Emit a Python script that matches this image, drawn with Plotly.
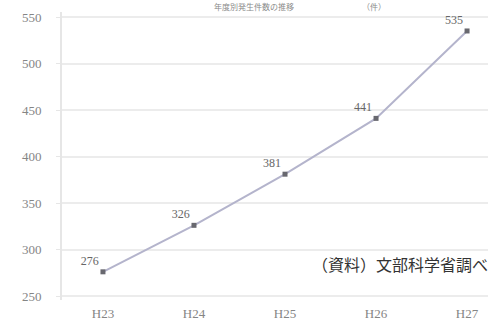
import plotly.graph_objects as go

# Fiscal years (Heisei era) and yearly counts
years = ["H23", "H24", "H25", "H26", "H27"]
counts = [276, 326, 381, 441, 535]
y_ticks = [250, 300, 350, 400, 450, 500, 550]

fig = go.Figure()

fig.add_trace(go.Scatter(
    x=years,
    y=counts,
    mode="lines+markers+text",
    line=dict(color="#b4b4cc", width=2),
    marker=dict(symbol="square", size=5, color="#68686f"),
    text=[str(v) for v in counts],
    textposition="top left",
    textfont=dict(family="Liberation Serif", size=12, color="#666666"),
    cliponaxis=False,
    hoverinfo="skip",
))

fig.update_layout(
    width=488,
    height=336,
    margin=dict(l=62, r=0, t=12, b=36),
    paper_bgcolor="white",
    plot_bgcolor="white",
    showlegend=False,
    xaxis=dict(
        type="category",
        range=[-0.45, 4.23],
        showgrid=False,
        showline=False,
        ticks="",
        ticklabelstandoff=4,
        tickfont=dict(family="Liberation Serif", size=13, color="#858585"),
    ),
    yaxis=dict(
        range=[245.7, 555.4],
        tickvals=y_ticks,
        ticktext=[str(v) for v in y_ticks],
        showgrid=True,
        gridcolor="#ececec",
        gridwidth=2,
        zeroline=False,
        showline=True,
        linecolor="#e6e6e6",
        linewidth=2,
        ticks="outside",
        ticklen=4,
        tickcolor="#e6e6e6",
        ticklabelstandoff=12,
        tickfont=dict(family="Liberation Serif", size=13, color="#858585"),
    ),
)

# Chart heading, small and grey along the top edge
fig.add_annotation(
    text="年度別発生件数の推移　　　　　　　　　（件）",
    xref="paper", yref="paper",
    x=(300 - 62) / 426, y=1 + (12 - 7) / 288,
    xanchor="center", yanchor="middle",
    showarrow=False,
    font=dict(family="Noto Sans CJK JP", size=8, color="#8a8a8a"),
)

# Source note
fig.add_annotation(
    text="（資料）文部科学省調べ",
    xref="paper", yref="paper",
    x=(310 - 62) / 426, y=(336 - 36 - 264) / 288,
    xanchor="left", yanchor="middle",
    showarrow=False,
    font=dict(family="Noto Sans CJK JP", size=16, color="#333333"),
)

fig.write_html("out.html")
